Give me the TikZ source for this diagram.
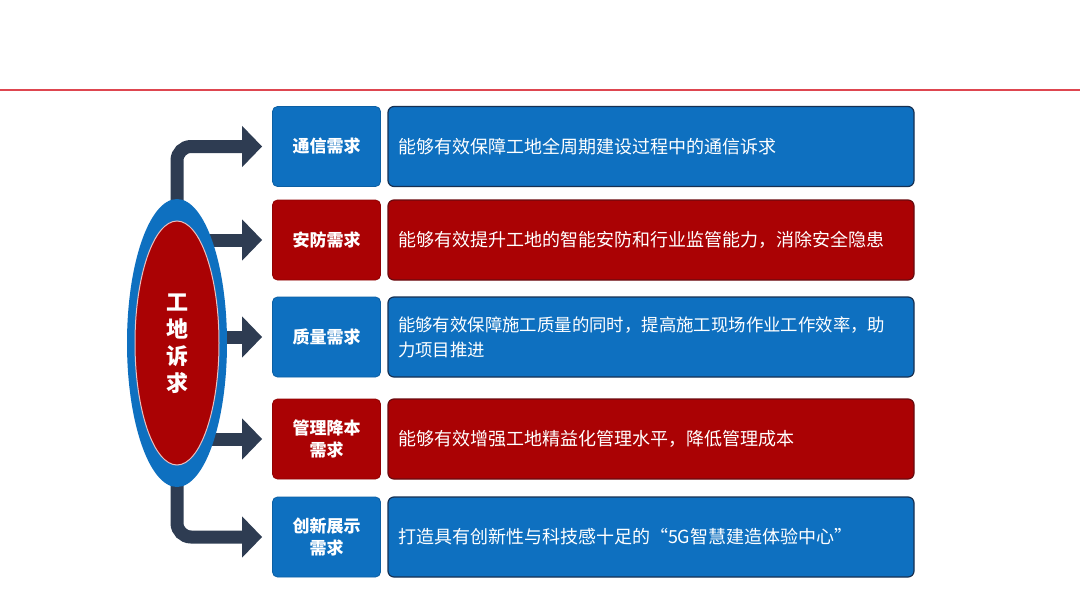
\documentclass[tikz,border=0pt]{standalone}
\usepackage{fontspec}
\setmainfont{Noto Sans CJK SC}
\usetikzlibrary{arrows.meta,shapes.geometric,backgrounds}
\pgfdeclarelayer{arrl}
\pgfsetlayers{background,arrl,main}
\definecolor{cblue}{RGB}{14,112,192}
\definecolor{cred}{RGB}{170,2,4}
\definecolor{navy}{RGB}{46,60,82}
\definecolor{lineRed}{RGB}{222,70,80}
\definecolor{bborder}{RGB}{22,48,82}
\definecolor{rborder}{RGB}{105,10,15}
\begin{document}
\begin{tikzpicture}[x=1pt,y=-1pt,
  lbox/.style={rounded corners=5pt, minimum width=108pt, minimum height=80pt, inner sep=0pt,
    text=white, align=center, font=\bfseries\fontsize{17}{22}\selectfont, line width=0.8pt},
  rbox/.style={rounded corners=6pt, minimum height=80pt, text width=506pt, inner xsep=10pt,
    inner ysep=0pt, align=left, text=white, font=\fontsize{18}{25}\selectfont, line width=1.2pt},
  bluel/.style={lbox, fill=cblue, draw=cblue!85!black},
  redl/.style={lbox, fill=cred, draw=cred!85!black},
  bluer/.style={rbox, fill=cblue, draw=bborder},
  redr/.style={rbox, fill=cred, draw=rborder},
  arr/.style={draw=navy, line width=13pt, rounded corners=14pt,
    -{Triangle[length=20pt,width=40pt]}}
]
\useasboundingbox (0,0) rectangle (1080,608);
\begin{scope}[on background layer]
\fill[white] (0,0) rectangle (1080,608);
\end{scope}
\draw[lineRed, line width=1.5pt] (0,90) -- (1080,90);

% left boxes
\node[bluel] (b1) at (326.5,146.5) {通信需求};
\node[redl]  (b2) at (326.5,240)   {安防需求};
\node[bluel] (b3) at (326.5,337)   {质量需求};
\node[redl]  (b4) at (326.5,439)   {管理降本\\需求};
\node[bluel] (b5) at (326.5,537)   {创新展示\\需求};

% right boxes
\node[bluer] (r1) at (651,146.5) {能够有效保障工地全周期建设过程中的通信诉求};
\node[redr]  (r2) at (651,240)   {能够有效提升工地的智能安防和行业监管能力，消除安全隐患};
\node[bluer, font=\fontsize{17.4}{25}\selectfont] (r3) at (651,337) {能够有效保障施工质量的同时，提高施工现场作业工作效率，助\\力项目推进};
\node[redr]  (r4) at (651,439)   {能够有效增强工地精益化管理水平，降低管理成本};
\node[bluer] (r5) at (651,537)   {打造具有创新性与科技感十足的“5G智慧建造体验中心”};

% ellipse
\node[ellipse, fill=cblue, minimum width=100pt, minimum height=288pt, inner sep=0pt] (ell) at (177,343) {};
\node[ellipse, fill=cred, draw=white!75!cred, line width=1pt, minimum width=84pt, minimum height=244pt, inner sep=0pt] (inn) at (177,343) {};
\node[text=white, align=center, font=\bfseries\fontsize{22}{27}\selectfont] (title) at (177,344) {工\\地\\诉\\求};

% arrows
\begin{pgfonlayer}{arrl}
\draw[arr] (ell.center) |- ([xshift=-10pt]b1.west);
\draw[arr] (ell.center |- b2.west) -- ([xshift=-10pt]b2.west);
\draw[arr] (ell.center |- b3.west) -- ([xshift=-10pt]b3.west);
\draw[arr] (ell.center |- b4.west) -- ([xshift=-10pt]b4.west);
\draw[arr] (ell.center) |- ([xshift=-10pt]b5.west);
\end{pgfonlayer}
\end{tikzpicture}
\end{document}
